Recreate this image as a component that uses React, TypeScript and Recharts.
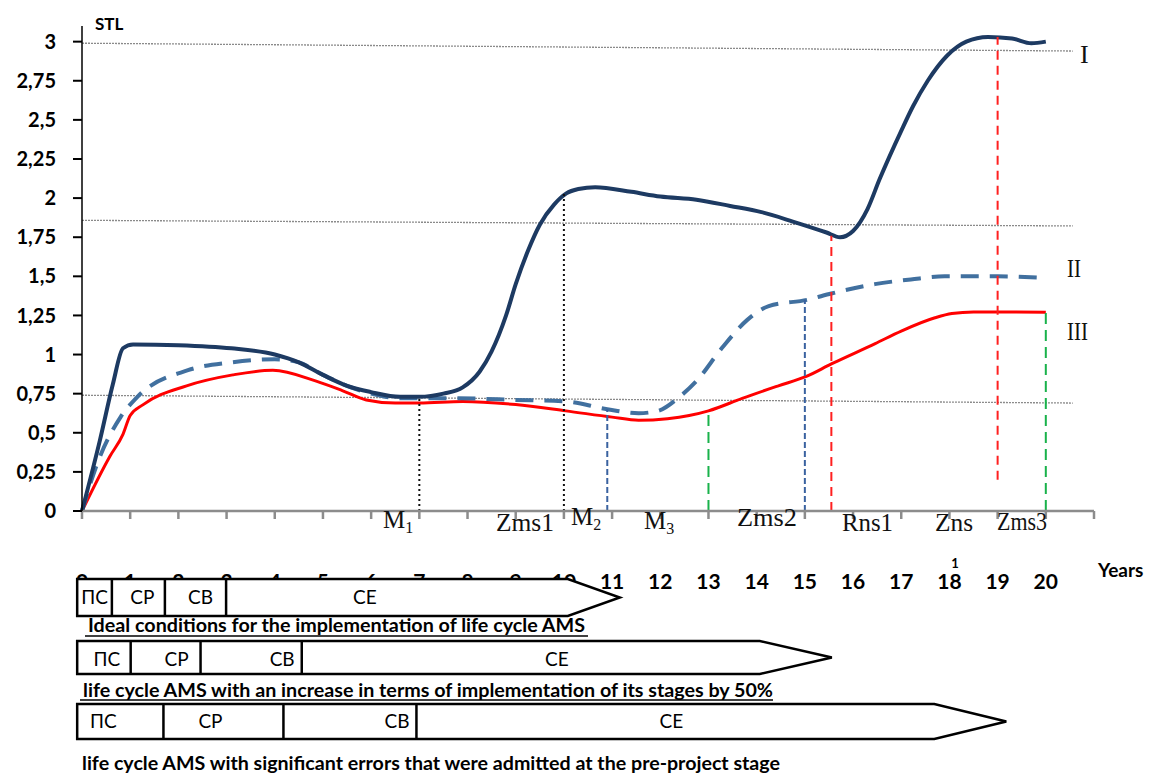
import React from 'react';
import { LineChart, Line, XAxis, YAxis, ReferenceLine } from 'recharts';

// axis ticks
const yearTicks = [0, 1, 2, 3, 4, 5, 6, 7, 8, 9, 10, 11, 12, 13, 14, 15, 16, 17, 18, 19, 20, 21];
const stlTicks = [0, 0.25, 0.5, 0.75, 1, 1.25, 1.5, 1.75, 2, 2.25, 2.5, 2.75, 3];

// curve I (solid navy)
const curveIYears = [0, 0.37, 0.64, 0.85, 1.06, 2, 3.1, 4, 4.5, 5, 5.5, 6, 6.6, 7, 7.5, 7.9, 8.25, 8.5, 8.8, 9, 9.25, 9.5, 9.8, 10.05, 10.3, 10.65, 11.4, 12, 12.75, 13.45, 14.1, 14.75, 15.45, 15.73, 16, 16.3, 16.55, 17, 17.25, 17.55, 17.95, 18.35, 18.8, 19.3, 19.7, 20];
const curveIValues = [0, 0.45, 0.81, 1.04, 1.065, 1.06, 1.04, 1.0, 0.95, 0.87, 0.8, 0.76, 0.73, 0.73, 0.75, 0.79, 0.89, 1.02, 1.25, 1.45, 1.66, 1.83, 1.96, 2.03, 2.058, 2.07, 2.04, 2.01, 1.99, 1.95, 1.91, 1.85, 1.78, 1.75, 1.79, 1.93, 2.12, 2.43, 2.59, 2.75, 2.91, 3.0, 3.03, 3.02, 2.99, 3.0];

// curve II (dashed blue)
const curveIIYears = [0, 0.3, 0.8, 1.15, 2.2, 3.1, 4, 4.5, 5, 5.5, 6, 6.6, 7, 7.8, 9, 10.05, 10.9, 11.55, 11.95, 12.4, 12.75, 13.3, 13.8, 14.25, 15.05, 15.55, 16.45, 17.2, 17.9, 19, 20];
const curveIIValues = [0, 0.29, 0.6, 0.73, 0.9, 0.95, 0.97, 0.95, 0.87, 0.8, 0.75, 0.72, 0.72, 0.72, 0.71, 0.7, 0.65, 0.625, 0.64, 0.73, 0.83, 1.05, 1.22, 1.31, 1.35, 1.39, 1.45, 1.48, 1.5, 1.5, 1.49];

// curve III (solid red)
const curveIIIYears = [0, 0.58, 0.85, 1.0, 1.27, 2.17, 3.13, 3.96, 4.86, 5.4, 5.9, 6.5, 7, 7.9, 9, 10.04, 11, 11.55, 12.15, 12.6, 13, 13.7, 14.45, 15.03, 15.55, 16.46, 17, 17.7, 18.05, 18.5, 19, 20];
const curveIIIValues = [0, 0.35, 0.49, 0.61, 0.68, 0.8, 0.87, 0.9, 0.83, 0.77, 0.71, 0.69, 0.69, 0.7, 0.68, 0.64, 0.6, 0.58, 0.59, 0.61, 0.64, 0.72, 0.8, 0.86, 0.94, 1.07, 1.15, 1.235, 1.262, 1.272, 1.272, 1.27];

// vertical markers
const markerYears = [7, 10, 10.9, 13, 15, 15.55, 19, 20];
const markerFrom = [0, 0, 0, 0, 0, 0, 0.2, 0];
const markerTo = [0.72, 2.04, 0.65, 0.64, 1.35, 1.76, 3.03, 1.27];
const markerKinds = ['black', 'black', 'blue', 'green', 'blue', 'red', 'red', 'green'];

// thin grey level lines (slightly sloped)
const levelStart = [2.99, 1.858, 0.74];
const levelEnd = [2.94, 1.822, 0.69];
const levelEndYear = 20.56;

// life cycle stages (end of each stage, in years; last = arrow tip)
const stageNames = ['ПС', 'CP', 'CB', 'CE'];
const stageStart = -0.1;
const idealStageEnds = [0.62, 1.72, 2.99, 11.16];
const slowStageEnds = [1.01, 2.46, 4.56, 15.56];
const errorStageEnds = [1.69, 4.18, 6.94, 19.18];
const captions = [
  'Ideal conditions for the implementation of life cycle  AMS',
  'life cycle AMS with an increase in terms of implementation of its stages by 50%',
  'life cycle AMS with significant errors that were admitted at the pre-project stage',
];

const toPoints = (xs: number[], ys: number[]) => xs.map((x, i) => ({ x, y: ys[i] }));
const curveI = toPoints(curveIYears, curveIValues);
const curveII = toPoints(curveIIYears, curveIIValues);
const curveIII = toPoints(curveIIIYears, curveIIIValues);

// geometry shared by chart and overlay
const W = 1159;
const H = 776;
const PLOT_LEFT = 82;
const PLOT_RIGHT = 1094;
const PLOT_TOP = 26;
const PLOT_BOTTOM = 541;
const X_MAX = 21;
const Y_MAX = 3.1;
const px = (x: number) => PLOT_LEFT + (x / X_MAX) * (PLOT_RIGHT - PLOT_LEFT);

const markerStyle: Record<string, { stroke: string; dash: string; width: number }> = {
  black: { stroke: '#111', dash: '2 3', width: 2 },
  blue: { stroke: '#3a62a0', dash: '6 3', width: 2 },
  green: { stroke: '#19b24b', dash: '11 6', width: 2 },
  red: { stroke: '#ff2020', dash: '9 6', width: 2 },
};

const sans = 'Lato, "Open Sans", sans-serif';
const serif = '"Liberation Serif", "Times New Roman", serif';

const YearTick = (props: any) => {
  const { x, payload } = props;
  const v = payload.value;
  if (v === 21) return <g />;
  return (
    <text x={x} y={PLOT_BOTTOM + 48} textAnchor="middle" fontFamily={sans} fontWeight={700} fontSize={21} fill="#000">
      {v}
    </text>
  );
};

const rows = [
  { ends: idealStageEnds, top: 579, bottom: 616, head: 52, shift: [0, 4, 5, -32], base: 604 },
  { ends: slowStageEnds, top: 641, bottom: 674, head: 72, shift: [3, 11, 31, 26], base: 666 },
  { ends: errorStageEnds, top: 704, bottom: 739, head: 72, shift: [-17, -13, 47, -4], base: 728 },
];

const StageRows = () => (
  <g>
    {rows.map((r, ri) => {
      const x0 = px(stageStart);
      const tip = px(r.ends[3]);
      const shoulder = tip - r.head;
      const mid = (r.top + r.bottom) / 2;
      const bounds = [stageStart, ...r.ends.slice(0, 3)];
      return (
        <g key={ri}>
          <path
            d={`M${x0},${r.top} L${shoulder},${r.top} L${tip},${mid} L${shoulder},${r.bottom} L${x0},${r.bottom} Z`}
            fill="#fff"
            stroke="#000"
            strokeWidth={2.5}
          />
          {r.ends.slice(0, 3).map((e, i) => (
            <line key={i} x1={px(e)} x2={px(e)} y1={r.top} y2={r.bottom} stroke="#000" strokeWidth={2.5} />
          ))}
          {stageNames.map((n, i) => {
            const a = px(bounds[i]);
            const b = i < 3 ? px(r.ends[i]) : shoulder;
            return (
              <text key={n} x={(a + b) / 2 + r.shift[i]} y={r.base} textAnchor="middle" fontFamily={sans} fontSize={19} fill="#000">
                {n}
              </text>
            );
          })}
        </g>
      );
    })}
    <text x={88} y={632} fontFamily={sans} fontWeight={700} fontSize={18} textLength={497} lengthAdjust="spacingAndGlyphs">{captions[0]}</text>
    <line x1={85} x2={588} y1={636} y2={636} stroke="#000" strokeWidth={1.5} />
    <text x={83} y={697} fontFamily={sans} fontWeight={700} fontSize={18} textLength={690} lengthAdjust="spacingAndGlyphs">{captions[1]}</text>
    <line x1={80} x2={773} y1={700} y2={700} stroke="#000" strokeWidth={1.5} />
    <text x={82} y={770} fontFamily={sans} fontWeight={700} fontSize={19} textLength={698} lengthAdjust="spacingAndGlyphs">{captions[2]}</text>
  </g>
);

const Annotations = () => (
  <g fontFamily={serif} fontSize={25} fill="#111">
    <text x={383} y={528}>M<tspan fontSize={16} dy={5}>1</tspan></text>
    <text x={496} y={531} textLength={58} lengthAdjust="spacingAndGlyphs">Zms1</text>
    <text x={571} y={525}>M<tspan fontSize={16} dy={5}>2</tspan></text>
    <text x={644} y={529}>M<tspan fontSize={16} dy={5}>3</tspan></text>
    <text x={737} y={526} textLength={60} lengthAdjust="spacingAndGlyphs">Zms2</text>
    <text x={842} y={531} textLength={51} lengthAdjust="spacingAndGlyphs">Rns1</text>
    <text x={935} y={531} textLength={38} lengthAdjust="spacingAndGlyphs">Zns</text>
    <text x={997} y={530} textLength={50} lengthAdjust="spacingAndGlyphs">Zms3</text>
    <text x={1080} y={63} fontSize={26}>I</text>
    <text x={1067} y={277} fontSize={26} textLength={14} lengthAdjust="spacingAndGlyphs">II</text>
    <text x={1067} y={340} fontSize={26} textLength={21} lengthAdjust="spacingAndGlyphs">III</text>
    <g fontFamily={sans} fontWeight={700} fill="#000">
      <text x={95} y={30} fontSize={17}>STL</text>
      <text x={1098} y={577} fontSize={19}>Years</text>
      <text x={955} y={568} fontSize={13} textAnchor="middle">1</text>
    </g>
  </g>
);

export default function App() {
  return (
    <div style={{ position: 'absolute', left: 0, top: 0, width: W, height: H, background: '#fff' }}>
      <LineChart
        width={W}
        height={H}
        margin={{ top: PLOT_TOP, right: W - PLOT_RIGHT, bottom: H - PLOT_BOTTOM, left: 0 }}
      >
        <XAxis
          type="number"
          dataKey="x"
          domain={[0, X_MAX]}
          ticks={yearTicks}
          interval={0}
          axisLine={{ stroke: '#8c8c8c', strokeWidth: 2.5 }}
          tickLine={{ stroke: '#8c8c8c', strokeWidth: 2.5 }}
          tickSize={8}
          tick={<YearTick />}
        />
        <YAxis
          type="number"
          width={PLOT_LEFT}
          domain={[0, Y_MAX]}
          ticks={stlTicks}
          interval={0}
          tickFormatter={(v: number) => String(v).replace('.', ',')}
          axisLine={{ stroke: '#000', strokeWidth: 1.5 }}
          tickLine={{ stroke: '#000', strokeWidth: 2 }}
          tickSize={9}
          tickMargin={17}
          tick={{ fontFamily: sans, fontWeight: 700, fontSize: 20, fill: '#000' }}
        />
        {levelStart.map((v, i) => (
          <ReferenceLine
            key={`lvl${i}`}
            segment={[{ x: 0, y: v }, { x: levelEndYear, y: levelEnd[i] }]}
            stroke="#8a8a8a"
            strokeWidth={1.3}
            strokeDasharray="2 1"
          />
        ))}
        <Line data={curveIII} dataKey="y" type="monotone" stroke="#ff0000" strokeWidth={3} dot={false} isAnimationActive={false} />
        <Line data={curveII} dataKey="y" type="monotone" stroke="#41709f" strokeWidth={4} strokeDasharray="18 11" dot={false} isAnimationActive={false} />
        <Line data={curveI} dataKey="y" type="monotone" stroke="#1d3a62" strokeWidth={4} dot={false} isAnimationActive={false} />
        {markerYears.map((x, i) => {
          const s = markerStyle[markerKinds[i]];
          return (
            <ReferenceLine
              key={`m${i}`}
              segment={[{ x, y: markerFrom[i] }, { x, y: markerTo[i] }]}
              stroke={s.stroke}
              strokeWidth={s.width}
              strokeDasharray={s.dash}
            />
          );
        })}
      </LineChart>
      <svg width={W} height={H} style={{ position: 'absolute', left: 0, top: 0, pointerEvents: 'none' }}>
        <Annotations />
        <StageRows />
      </svg>
    </div>
  );
}
